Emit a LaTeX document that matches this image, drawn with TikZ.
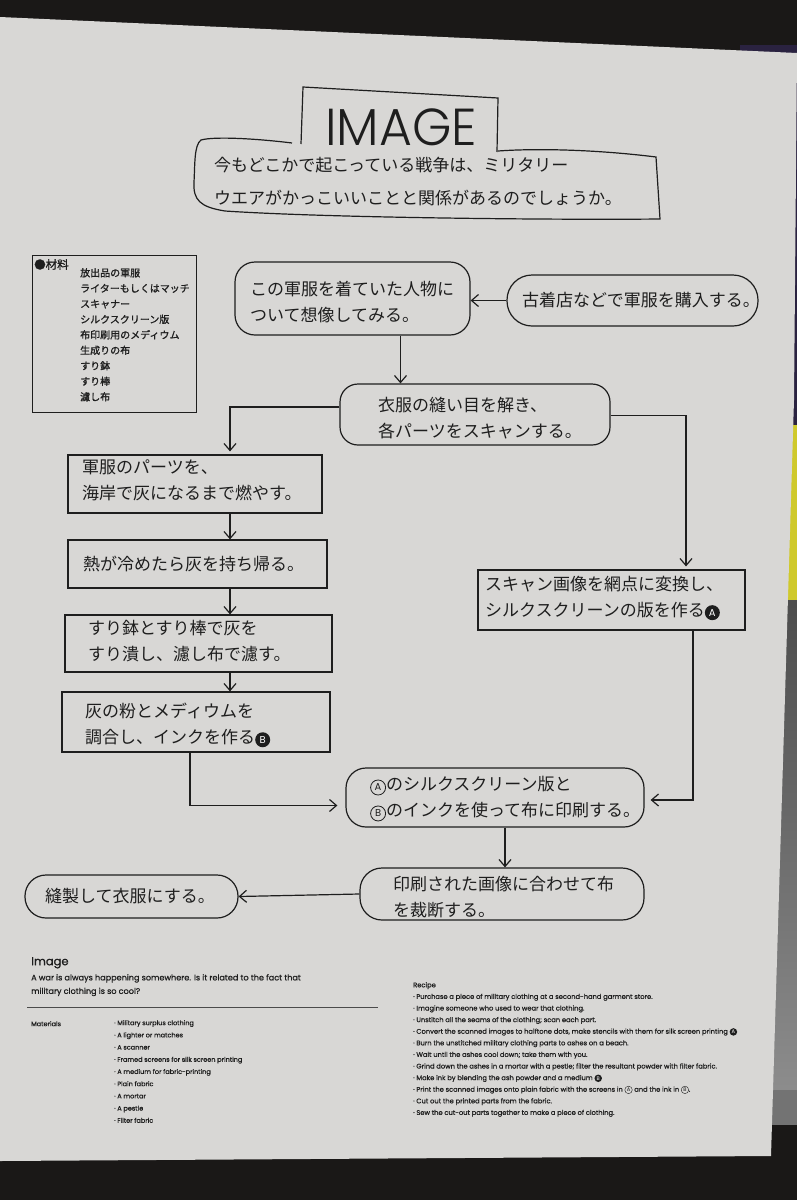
\documentclass[tikz,border=0pt]{standalone}
\usepackage{fontspec}
\usetikzlibrary{arrows.meta}
\setmainfont{Poppins}
\newfontfamily\jp{Noto Sans CJK JP}
\newfontfamily\jpb{Noto Sans CJK JP}[FakeBold=1.2]
\newfontfamily\pop{Poppins}
\newfontfamily\popl{Poppins Light}
\newfontfamily\popb{Poppins}[FakeBold=0.8]
\definecolor{ink}{HTML}{1E1E1E}
\definecolor{paper}{HTML}{D8D7D5}
\definecolor{bgdark}{HTML}{1A1817}
\definecolor{purp}{HTML}{2A2240}
\definecolor{yel}{HTML}{CFC92C}
\newcommand\bcirc[1]{\tikz[baseline=(bc.base)]\node[circle,fill=ink,text=white,inner sep=0pt,minimum size=15pt,font=\pop\fontsize{10}{10}\selectfont](bc){#1};}
\newcommand\wcirc[1]{\tikz[baseline=(wc.base)]\node[circle,draw=ink,line width=0.8pt,inner sep=0pt,minimum size=15pt,font=\pop\fontsize{10}{10}\selectfont](wc){#1};}
\newcommand\rcirc[2]{\tikz[baseline=(#1.base)]\node[circle,fill=ink,text=white,inner sep=0pt,minimum size=7.5pt,font=\pop\fontsize{5.2}{5.2}\selectfont](#1){#2};}
\newcommand\rwcirc[2]{\tikz[baseline=(#1.base)]\node[circle,draw=ink,line width=0.4pt,inner sep=0pt,minimum size=7.5pt,font=\pop\fontsize{5.2}{5.2}\selectfont](#1){#2};}
\tikzset{
  ln/.style={draw=ink, line width=1.2pt},
  rbox/.style={draw=ink, line width=1.2pt, rounded corners=20pt},
  sbox/.style={draw=ink, line width=1.2pt},
  jt/.style={font=\jp\fontsize{17}{26}\selectfont, align=left, anchor=west, inner sep=0pt, text=ink},
  arr/.style={draw=ink, line width=1.2pt, -{Straight Barb[length=7pt,width=12pt]}},
  mat/.style={font=\jpb\fontsize{10}{15.5}\selectfont, align=left, anchor=north west, inner sep=0pt, text=ink},
  en/.style={font=\popb\fontsize{8.1}{13.5}\selectfont, align=left, anchor=north west, inner sep=0pt, text=ink},
  rec/.style={font=\popb\fontsize{6.7}{11.6}\selectfont, align=left, anchor=north west, inner sep=0pt, text=ink},
}
\begin{document}
\begin{tikzpicture}[x=1pt,y=-1pt]
\useasboundingbox (0,0) rectangle (797,1200);
% photo background
\fill[bgdark] (0,0) rectangle (797,1200);
\fill[purp] (740,45) rectangle (797,425);
\fill[yel] (740,425) rectangle (797,600);
\shade[top color=black!70, bottom color=black!45] (740,600) rectangle (797,1090);
\fill[black!55] (740,1090) rectangle (797,1125);
% poster
\fill[paper] (0,17) -- (797,53) -- (794,400) -- (771,1156) -- (0,1161) -- cycle;

% title
\draw[ln] (301,144) -- (303,87) -- (498,98) -- (497,152);
\draw[ln] (292,143) .. controls (260,139) and (215,136) .. (201,140)
  .. controls (194,145) and (195,165) .. (194,182)
  .. controls (193,200) and (200,207) .. (225,211)
  .. controls (330,218) and (560,220) .. (660,219)
  -- (656,157) .. controls (600,150) and (540,148) .. (498,151);
\node[font=\popl\fontsize{52}{52}\selectfont, xscale=0.97, text=ink, inner sep=0pt, text depth=0pt, anchor=base] (title) at (401,145) {IMAGE};
\node[font=\jp\fontsize{17}{33}\selectfont, align=left, anchor=west, inner sep=0pt, text=ink] (lead) at (214,182)
  {今もどこかで起こっている戦争は、ミリタリー\\ウエアがかっこいいことと関係があるのでしょうか。};

% materials box
\node[draw=ink, line width=0.8pt, minimum width=164pt, minimum height=157pt, inner sep=0pt] (matbox) at (114,333.5) {};
\node[font=\jpb\fontsize{11.5}{11.5}\selectfont, anchor=north west, inner sep=0pt, text=ink] (mathead) at (34,259) {●材料};
\node[mat] (matlist) at (80,268) {放出品の軍服\\ライターもしくはマッチ\\スキャナー\\シルクスクリーン版\\布印刷用のメディウム\\生成りの布\\すり鉢\\すり棒\\濾し布};

% flow boxes
\node[rbox, minimum width=235pt, minimum height=73pt] (n1) at (352.5,298.5) {};
\node[jt] (t1) at (250,302) {この軍服を着ていた人物に\\ついて想像してみる。};
\node[rbox, rounded corners=25pt, minimum width=251pt, minimum height=51pt] (n2) at (632.5,300.5) {};
\node[jt] (t2) at (522,300.5) {古着店などで軍服を購入する。};
\node[rbox, rounded corners=18pt, minimum width=270pt, minimum height=61pt] (n3) at (475,414.5) {};
\node[jt] (t3) at (378,418) {衣服の縫い目を解き、\\各パーツをスキャンする。};
\node[sbox, minimum width=254pt, minimum height=58pt] (n4) at (195,484) {};
\node[jt] (t4) at (82,480) {軍服のパーツを、\\海岸で灰になるまで燃やす。};
\node[sbox, minimum width=259pt, minimum height=48pt] (n5) at (197.5,564) {};
\node[jt] (t5) at (83,564) {熱が冷めたら灰を持ち帰る。};
\node[sbox, minimum width=267pt, minimum height=57pt] (n6) at (198.5,643.5) {};
\node[jt] (t6) at (88,641) {すり鉢とすり棒で灰を\\すり潰し、濾し布で濾す。};
\node[sbox, minimum width=268pt, minimum height=60pt] (n7) at (196,722) {};
\node[jt] (t7) at (85,725) {灰の粉とメディウムを\\調合し、インクを作る\bcirc{B}};
\node[sbox, minimum width=267pt, minimum height=60pt] (na) at (611.5,600) {};
\node[jt] (ta) at (485,598) {スキャン画像を網点に変換し、\\シルクスクリーンの版を作る\bcirc{A}};
\node[rbox, minimum width=298pt, minimum height=59pt] (n8) at (495,797.5) {};
\node[jt] (t8) at (370,799) {\wcirc{A}のシルクスクリーン版と\\\wcirc{B}のインクを使って布に印刷する。};
\node[rbox, rounded corners=22pt, minimum width=284pt, minimum height=52pt] (n9) at (502,894) {};
\node[jt] (t9) at (393,897) {印刷された画像に合わせて布\\を裁断する。};
\node[rbox, rounded corners=21pt, minimum width=213pt, minimum height=43pt] (n10) at (131.5,896.5) {};
\node[jt] (t10) at (45,896) {縫製して衣服にする。};

% connectors
\draw[arr] (n2.west) -- (n1.east |- n2.west);
\draw[arr] ([xshift=48pt]n1.south) -- ([xshift=48pt]n1.south |- n3.north);
\draw[arr] ([yshift=7.5pt]n3.west) -| ([xshift=35pt,yshift=3pt]n4.north);
\draw[arr] ([yshift=-1pt]n3.east) -| ([xshift=74.5pt,yshift=3pt]na.north);
\draw[arr] ([xshift=35pt]n4.south) -- ([xshift=35pt]n4.south |- n5.north);
\draw[arr] ([xshift=32.5pt]n5.south) -- ([xshift=32.5pt]n5.south |- n6.north);
\draw[arr] ([xshift=31.5pt]n6.south) -- ([xshift=31.5pt]n6.south |- n7.north);
\draw[arr, shorten >=8pt] ([xshift=-6pt]n7.south) |- ([yshift=-8pt]n8.west);
\draw[arr, shorten >=6pt] ([xshift=81.5pt]na.south) |- ([yshift=-2.5pt]n8.east);
\draw[arr] ([xshift=10pt]n8.south) -- ([xshift=10pt]n8.south |- n9.north);
\draw[arr] (n9.west) -- (n10.east);

% English text
\node[font=\popb\fontsize{11.5}{11.5}\selectfont, anchor=north west, inner sep=0pt, text=ink] (imgtitle) at (31,957) {Image};
\node[en] (ensub) at (31,974) {A war is always happening somewhere. Is it related to the fact that\\military clothing is so cool?};
\coordinate (rl) at (27,1007);
\coordinate (rr) at (378,1007);
\draw[draw=ink!80, line width=0.7pt] (rl) -- (rr);
\node[rec, font=\popb\fontsize{6.5}{12.2}\selectfont] (matlab) at (31,1021) {Materials};
\node[rec, font=\popb\fontsize{6.5}{12.2}\selectfont] (enmat) at (114,1020) {· Military surplus clothing\\· A lighter or matches\\· A scanner\\· Framed screens for silk screen printing\\· A medium for fabric-printing\\· Plain fabric\\· A mortar\\· A pestle\\· Filter fabric};
\node[rec] (rechead) at (413,982) {Recipe\\· Purchase a piece of military clothing at a second-hand garment store.\\· Imagine someone who used to wear that clothing.\\· Unstitch all the seams of the clothing; scan each part.\\· Convert the scanned images to halftone dots, make stencils with them for silk screen printing \rcirc{ra}{A}\\· Burn the unstitched military clothing parts to ashes on a beach.\\· Wait until the ashes cool down; take them with you.\\· Grind down the ashes in a mortar with a pestle; filter the resultant powder with filter fabric.\\· Make ink by blending the ash powder and a medium \rcirc{rb}{B}\\· Print the scanned images onto plain fabric with the screens in \rwcirc{rc}{A} and the ink in \rwcirc{rd}{B}.\\· Cut out the printed parts from the fabric.\\· Sew the cut-out parts together to make a piece of clothing.};
\end{tikzpicture}
\end{document}
